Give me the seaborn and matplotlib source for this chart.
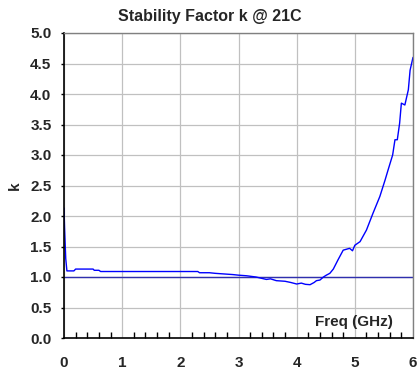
import numpy as np
import pandas as pd
import matplotlib
matplotlib.use('Agg')
import matplotlib.pyplot as plt
import seaborn as sns
from matplotlib.ticker import MultipleLocator

# =============================================================================
# Data
# =============================================================================
freq_ghz = [0.0, 0.01, 0.03, 0.05, 0.17, 0.2, 0.5, 0.52, 0.6, 0.63, 2.3, 2.33,
            2.5, 2.6, 2.75, 2.9, 3.0, 3.14, 3.3, 3.48, 3.55, 3.65, 3.8, 3.9,
            4.0, 4.08, 4.15, 4.23, 4.3, 4.34, 4.4, 4.46, 4.51, 4.57, 4.63,
            4.71, 4.8, 4.91, 4.96, 5.0, 5.09, 5.2, 5.31, 5.43, 5.52, 5.57,
            5.65, 5.69, 5.73, 5.77, 5.8, 5.86, 5.92, 5.95, 6.0]
k_factor = [2.13, 1.8, 1.3, 1.10, 1.10, 1.13, 1.13, 1.11, 1.11, 1.09, 1.09, 1.07,
            1.07, 1.06, 1.05, 1.04, 1.03, 1.02, 1.00, 0.96, 0.97, 0.94, 0.93, 0.91,
            0.885, 0.90, 0.88, 0.874, 0.91, 0.94, 0.95, 1.00, 1.03, 1.06, 1.13,
            1.28, 1.44, 1.47, 1.43, 1.52, 1.58, 1.77, 2.04, 2.32, 2.59, 2.75,
            3.0, 3.25, 3.25, 3.52, 3.85, 3.82, 4.07, 4.39, 4.60]
unity_freq = [0.0, 6.0]
unity_k = [1.0, 1.0]

df = pd.DataFrame({'Freq': freq_ghz, 'k': k_factor})
ref = pd.DataFrame({'Freq': unity_freq, 'k': unity_k})

# =============================================================================
# Plot
# =============================================================================
sns.set_theme(style='white')
plt.rcParams['font.family'] = ['Liberation Sans', 'DejaVu Sans']

fig = plt.figure(figsize=(4.2, 3.7), dpi=100)
ax = fig.add_axes([64 / 420, 32 / 370, 349 / 420, 305 / 370])

sns.lineplot(data=ref, x='Freq', y='k', ax=ax, color='#2f2fae', linewidth=1.0)
sns.lineplot(data=df, x='Freq', y='k', ax=ax, color='#0000ff', linewidth=1.0,
             sort=False)

ax.set_xlim(0, 6)
ax.set_ylim(0, 5)
ax.xaxis.set_major_locator(MultipleLocator(1))
ax.xaxis.set_minor_locator(MultipleLocator(0.2))
ax.yaxis.set_major_locator(MultipleLocator(0.5))
ax.yaxis.set_major_formatter(plt.FuncFormatter(lambda y, _: f'{y:.1f}'))

ax.grid(True, which='major', color='#c0c0c0', linewidth=0.9)
ax.set_axisbelow(True)

ax.tick_params(axis='x', which='major', direction='in', length=5, width=1,
               color='black', pad=13, labelsize=11)
ax.tick_params(axis='x', which='minor', direction='in', length=4, width=1,
               color='black', bottom=True)
ax.tick_params(axis='y', which='major', direction='out', length=2.5, width=1,
               color='black', left=True, pad=6.5, labelsize=11)
for lab in ax.get_xticklabels() + ax.get_yticklabels():
    lab.set_fontweight('bold')

for side in ['left', 'bottom']:
    ax.spines[side].set_color('black')
    ax.spines[side].set_linewidth(1.2)
for side in ['top', 'right']:
    ax.spines[side].set_color('#808080')
    ax.spines[side].set_linewidth(1.0)

ax.set_xlabel('')
ax.set_ylabel('k', fontsize=11, fontweight='bold', labelpad=6)
# title is centred on the figure, not on the plot area
fig.text(0.5, 1 - 17 / 370, 'Stability Factor k @ 21C', ha='center',
         va='center', fontsize=11.5, fontweight='bold')
ax.text(0.83, 0.052, 'Freq (GHz)', transform=ax.transAxes, ha='center',
        va='center', fontsize=11, fontweight='bold')

fig.savefig('out.png', dpi=100)
